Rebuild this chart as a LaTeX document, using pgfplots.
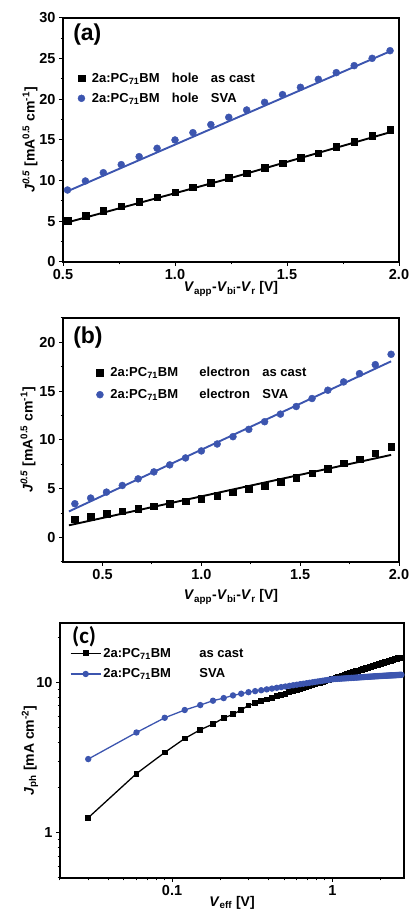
\documentclass[border=0pt]{standalone}
\usepackage{fontspec}
\setmainfont{Liberation Sans}
\newfontfamily\carlito{Carlito}
\usepackage{pgfplots}
\usepackage{pgfplotstable}
\pgfplotsset{compat=1.18}
\definecolor{svablue}{RGB}{60,85,175}

% panel (a): hole-only devices
\pgfplotstableread{
x     cast   sva
0.52  5.04   8.85
0.60  5.66   9.96
0.68  6.27  10.98
0.76  6.84  11.97
0.84  7.42  12.95
0.92  7.99  13.98
1.00  8.56  15.00
1.08  9.18  15.90
1.16  9.75  16.89
1.24 10.37  17.79
1.32 10.94  18.69
1.40 11.56  19.63
1.48 12.17  20.58
1.56 12.79  21.48
1.64 13.40  22.46
1.72 14.14  23.28
1.80 14.80  24.14
1.88 15.50  25.04
1.96 16.27  25.98
}\holedata

% panel (b): electron-only devices
\pgfplotstableread{
x     cast   sva
0.36  1.90   3.47
0.44  2.17   4.05
0.52  2.45   4.66
0.60  2.72   5.34
0.68  2.96   6.02
0.76  3.23   6.73
0.84  3.47   7.45
0.92  3.74   8.16
1.00  4.01   8.88
1.08  4.32   9.59
1.16  4.66  10.34
1.24  5.00  11.09
1.32  5.34  11.87
1.40  5.71  12.65
1.48  6.15  13.43
1.56  6.60  14.25
1.64  7.07  15.10
1.72  7.62  15.95
1.80  8.03  16.80
1.88  8.64  17.72
1.96  9.32  18.78
}\elecdata

% panel (c): photocurrent vs effective voltage
\pgfplotstableread{
x     cast   sva
0.03  1.26   3.10
0.06  2.48   4.66
0.09  3.43   5.84
0.12  4.25   6.58
0.15  4.86   7.10
0.18  5.30   7.59
0.21  5.82   7.90
0.24  6.15   8.23
0.27  6.60   8.45
0.30  7.05   8.65
0.33  7.31   8.79
0.36  7.53   8.91
0.39  7.73   9.03
0.42  7.93   9.14
0.45  8.11   9.25
0.48  8.29   9.35
0.51  8.46   9.44
0.54  8.62   9.53
0.57  8.78   9.62
0.60  8.93   9.70
0.63  9.08   9.78
0.66  9.22   9.85
0.69  9.36   9.92
0.72  9.50   9.99
0.75  9.62  10.06
0.78  9.75  10.13
0.81  9.88  10.19
0.84 10.00  10.25
0.87 10.11  10.31
0.90 10.23  10.37
0.93 10.35  10.42
0.96 10.45  10.48
0.99 10.56  10.53
1.02 10.67  10.57
1.05 10.78  10.59
1.08 10.88  10.61
1.11 10.98  10.63
1.14 11.08  10.65
1.17 11.17  10.67
1.20 11.27  10.69
1.23 11.36  10.71
1.26 11.45  10.73
1.29 11.54  10.75
1.32 11.63  10.77
1.35 11.72  10.78
1.38 11.81  10.80
1.41 11.89  10.82
1.44 11.98  10.83
1.47 12.06  10.85
1.50 12.14  10.87
1.53 12.22  10.88
1.56 12.30  10.90
1.59 12.38  10.91
1.62 12.46  10.93
1.65 12.54  10.94
1.68 12.61  10.96
1.71 12.69  10.97
1.74 12.76  10.98
1.77 12.83  11.00
1.80 12.91  11.01
1.83 12.98  11.02
1.86 13.05  11.04
1.89 13.12  11.05
1.92 13.19  11.06
1.95 13.26  11.07
1.98 13.33  11.08
2.01 13.39  11.09
2.04 13.46  11.10
2.07 13.53  11.11
2.10 13.59  11.12
2.13 13.66  11.13
2.16 13.72  11.14
2.19 13.78  11.15
2.22 13.85  11.16
2.25 13.91  11.17
2.28 13.97  11.18
2.31 14.03  11.19
2.34 14.09  11.20
2.37 14.15  11.20
2.40 14.21  11.21
2.43 14.27  11.22
2.46 14.33  11.23
2.49 14.39  11.24
2.52 14.45  11.24
2.55 14.50  11.25
2.58 14.52  11.26
2.61 14.55  11.27
2.64 14.58  11.27
2.67 14.60  11.28
2.70 14.60  11.29
}\phdata

\pgfplotsset{
  panel/.style={
    scale only axis, anchor=south west,
    width=336pt, height=244pt,
    axis line style={line width=1.1pt},
    tick align=outside, xtick pos=bottom, ytick pos=left,
    major tick length=4pt, minor tick length=2.5pt,
    every tick/.style={black, line width=1pt},
    tick label style={font=\bfseries\fontsize{14.5}{14.5}\selectfont},
    label style={font=\bfseries\fontsize{14}{14}\selectfont},
    legend cell align=left,
    legend style={draw=none, fill=none, anchor=north west,
      font=\bfseries\fontsize{13}{14}\selectfont, row sep=5pt},
  },
  fitline/.style={line width=1.9pt, forget plot, no marks},
}

\begin{document}
\begin{tikzpicture}
\useasboundingbox (0,0) rectangle (410pt,909pt);

% ---------------- (a)
\begin{axis}[panel, at={(63pt,647pt)},
  xmin=0.5, xmax=2.0, ymin=0, ymax=30,
  xtick={0.5,1.0,1.5,2.0}, xticklabels={0.5,1.0,1.5,2.0},
  minor xtick={0.75,1.25,1.75},
  ytick={0,5,...,30}, yticklabels={0,5,10,15,20,25,30},
  minor ytick={2.5,7.5,...,27.5},
  xlabel={\textit{V}\textsubscript{app}-\textit{V}\textsubscript{bi}-\textit{V}\textsubscript{r} [V]},
  xlabel style={at={(axis description cs:0.5,0)}, anchor=base, yshift=-30pt},
  ylabel={\textit{J}\textsuperscript{\textit{0.5}} [mA\textsuperscript{0.5} cm\textsuperscript{-1}]},
  ylabel style={at={([xshift=-33pt]axis description cs:0,0.5)}, anchor=center},
  legend style={at={(axis description cs:0.035,0.792)}},
]
\addplot[only marks, mark=square*, mark size=3.3pt, black] table[x=x, y=cast] {\holedata};
\addlegendentry{\hspace{5pt}\makebox[80pt][l]{2a:PC\textsubscript{71}BM}\makebox[39pt][l]{hole}as cast}
\addplot[only marks, mark=*, mark size=3.5pt, svablue] table[x=x, y=sva] {\holedata};
\addlegendentry{\hspace{5pt}\makebox[80pt][l]{2a:PC\textsubscript{71}BM}\makebox[39pt][l]{hole}SVA}
\addplot[fitline, black] coordinates {(0.516,4.84) (1.24,10.25) (1.96,15.95)};
\addplot[fitline, svablue] coordinates {(0.516,8.65) (1.96,25.9)};
\node[anchor=west, font=\bfseries\fontsize{23}{23}\selectfont] at (axis description cs:0.02,0.934) {(a)};
\end{axis}

% ---------------- (b)
\begin{axis}[panel, at={(63pt,347pt)},
  xmin=0.3, xmax=2.0, ymin=-2.5, ymax=22.5,
  xtick={0.5,1.0,1.5,2.0}, xticklabels={0.5,1.0,1.5,2.0},
  minor xtick={0.75,1.25,1.75},
  ytick={0,5,...,20}, yticklabels={0,5,10,15,20},
  minor ytick={-2.5,2.5,7.5,...,22.5},
  xlabel={\textit{V}\textsubscript{app}-\textit{V}\textsubscript{bi}-\textit{V}\textsubscript{r} [V]},
  xlabel style={at={(axis description cs:0.5,0)}, anchor=base, yshift=-38pt},
  ylabel={\textit{J}\textsuperscript{\textit{0.5}} [mA\textsuperscript{0.5} cm\textsuperscript{-1}]},
  ylabel style={at={([xshift=-35pt]axis description cs:0,0.5)}, anchor=center},
  legend style={at={(axis description cs:0.09,0.815)}, row sep=7pt},
]
\addplot[only marks, mark=square*, mark size=3.3pt, black] table[x=x, y=cast] {\elecdata};
\addlegendentry{\hspace{5pt}\makebox[89pt][l]{2a:PC\textsubscript{71}BM}\makebox[63pt][l]{electron}as cast}
\addplot[only marks, mark=*, mark size=3.5pt, svablue] table[x=x, y=sva] {\elecdata};
\addlegendentry{\hspace{5pt}\makebox[89pt][l]{2a:PC\textsubscript{71}BM}\makebox[63pt][l]{electron}SVA}
\addplot[fitline, black] coordinates {(0.33,1.26) (1.96,8.47)};
\addplot[fitline, svablue] coordinates {(0.33,2.68) (1.96,18.06)};
\node[anchor=west, font=\bfseries\fontsize{23}{23}\selectfont] at (axis description cs:0.02,0.918) {(b)};
\end{axis}

% ---------------- (c)
\begin{axis}[panel, at={(60pt,31pt)}, width=344pt, height=255pt,
  xmode=log, ymode=log,
  xmin=0.02, xmax=2.8, ymin=0.5, ymax=25,
  xtick={0.1,1}, xticklabels={0.1,1},
  minor xtick={0.02,0.03,0.04,0.05,0.06,0.07,0.08,0.09,0.2,0.3,0.4,0.5,0.6,0.7,0.8,0.9,2},
  ytick={1,10}, yticklabels={1,10},
  minor ytick={0.5,0.6,0.7,0.8,0.9,2,3,4,5,6,7,8,9,20},
  xlabel={\textit{V}\textsubscript{eff} [V]},
  xlabel style={at={(axis description cs:0.5,0)}, anchor=base, yshift=-28pt},
  ylabel={\textit{J}\textsubscript{ph} [mA cm\textsuperscript{-2}]},
  ylabel style={at={([xshift=-30pt]axis description cs:0,0.5)}, anchor=center},
  legend image code/.code={\draw[mark repeat=2, mark phase=2] plot coordinates {(0pt,0pt) (15pt,0pt) (30pt,0pt)};},
  legend style={at={(axis description cs:0.02,0.918)}, row sep=6pt},
]
\addplot[black, line width=1.3pt, mark=square*, mark size=2.3pt] table[x=x, y=cast] {\phdata};
\addlegendentry{\makebox[96pt][l]{2a:PC\textsubscript{71}BM}as cast}
\addplot[svablue, line width=1.3pt, mark=*, mark size=2.5pt] table[x=x, y=sva] {\phdata};
\addlegendentry{\makebox[96pt][l]{2a:PC\textsubscript{71}BM}SVA}
\node[anchor=west, font=\carlito\bfseries\fontsize{23}{23}\selectfont] at (axis description cs:0.025,0.945) {(c)};
\end{axis}
\end{tikzpicture}
\end{document}
